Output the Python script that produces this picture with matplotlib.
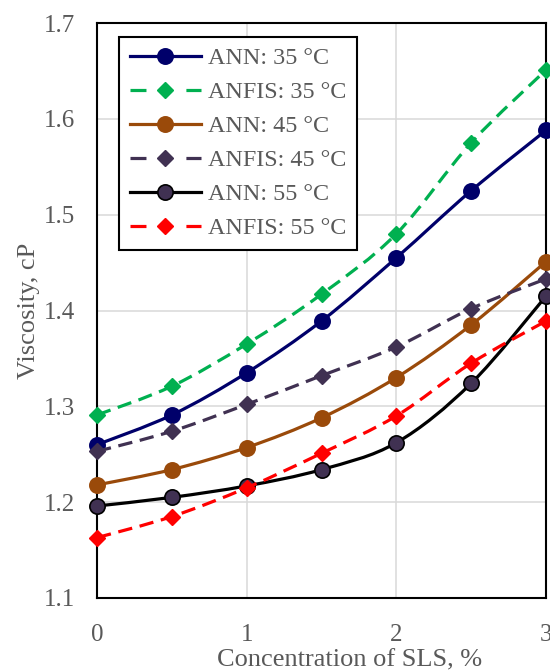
import matplotlib
matplotlib.use("Agg")
from matplotlib import pyplot as plt
from matplotlib.path import Path
from matplotlib.patches import PathPatch
from matplotlib.lines import Line2D

conc = [0, 0.5, 1, 1.5, 2, 2.5, 3]
ann_35 = [1.260, 1.291, 1.335, 1.389, 1.455, 1.525, 1.588]
anfis_35 = [1.291, 1.321, 1.365, 1.417, 1.480, 1.575, 1.651]
ann_45 = [1.218, 1.234, 1.257, 1.288, 1.330, 1.385, 1.451]
anfis_45 = [1.253, 1.274, 1.302, 1.332, 1.362, 1.402, 1.433]
ann_55 = [1.196, 1.205, 1.217, 1.234, 1.262, 1.324, 1.415]
anfis_55 = [1.163, 1.185, 1.215, 1.251, 1.290, 1.345, 1.389]

names = ["ANN: 35 °C", "ANFIS: 35 °C", "ANN: 45 °C", "ANFIS: 45 °C", "ANN: 55 °C", "ANFIS: 55 °C"]
series = [ann_35, anfis_35, ann_45, anfis_45, ann_55, anfis_55]
colors = ["#00006a", "#00b050", "#9a4a0a", "#403152", "#000000", "#ff0000"]
faces = ["#00006a", "#00b050", "#9a4a0a", "#403152", "#403152", "#ff0000"]
dashed = [False, True, False, True, False, True]

grey = "#595959"
plt.rcParams['font.family'] = ['Liberation Serif', 'DejaVu Serif']


def smooth_path(x, y):
    # excel style smoothed line: catmull-rom converted to bezier segments
    pts = list(zip(x, y))
    n = len(pts)
    verts = [pts[0]]
    codes = [Path.MOVETO]
    for i in range(n - 1):
        p0 = pts[max(i - 1, 0)]
        p1 = pts[i]
        p2 = pts[i + 1]
        p3 = pts[min(i + 2, n - 1)]
        c1 = (p1[0] + (p2[0] - p0[0]) / 6, p1[1] + (p2[1] - p0[1]) / 6)
        c2 = (p2[0] - (p3[0] - p1[0]) / 6, p2[1] - (p3[1] - p1[1]) / 6)
        verts += [c1, c2, p2]
        codes += [Path.CURVE4] * 3
    return Path(verts, codes)


fig = plt.figure(figsize=(5.5, 6.71), dpi=100)
ax = fig.add_axes([97 / 550, 73 / 671, 449 / 550, 575 / 671])

handles = []
for i in range(6):
    ls = (0, (4.5, 2.4)) if dashed[i] else '-'
    patch = PathPatch(smooth_path(conc, series[i]), fill=False, edgecolor=colors[i],
                      linewidth=2.3, linestyle=ls, capstyle='butt', joinstyle='round', zorder=3 + i)
    ax.add_patch(patch)
    if dashed[i]:
        ax.plot(conc, series[i], linestyle='none', marker='D', markersize=8.4,
                color=faces[i], markeredgecolor=faces[i], clip_on=False, zorder=3 + i)
        handles.append(Line2D([], [], color=colors[i], linewidth=2.3, linestyle=(0, (5.0, 12.5)),
                              marker='D', markersize=8.4, markerfacecolor=faces[i],
                              markeredgecolor=faces[i]))
    else:
        edge = "#000000" if i == 4 else faces[i]
        ax.plot(conc, series[i], linestyle='none', marker='o', markersize=11,
                markerfacecolor=faces[i], markeredgecolor=edge, markeredgewidth=1.2,
                clip_on=False, zorder=3 + i)
        handles.append(Line2D([], [], color=colors[i], linewidth=2.3, marker='o', markersize=11,
                              markerfacecolor=faces[i], markeredgecolor=edge, markeredgewidth=1.2))

ax.set_xlim(0, 3)
ax.set_ylim(1.1, 1.7)
ax.set_xticks([0, 1, 2, 3])
ax.set_yticks([1.1, 1.2, 1.3, 1.4, 1.5, 1.6, 1.7])
ax.set_yticklabels(["1.1", "1.2", "1.3", "1.4", "1.5", "1.6", "1.7"])
ax.grid(True, color="#d9d9d9", linewidth=1.1, zorder=0)
ax.set_axisbelow(True)
ax.tick_params(axis='both', length=0, labelsize=18, labelcolor=grey)
ax.tick_params(axis='x', pad=19)
ax.tick_params(axis='y', pad=16)
for s in ax.spines.values():
    s.set_color("#000000")
    s.set_linewidth(1.5)

ax.set_xlabel("Concentration of SLS, %", fontsize=19, color=grey)
ax.set_ylabel("Viscosity, cP", fontsize=19, color=grey)
ax.xaxis.set_label_coords(0.5635, -0.09)
ax.yaxis.set_label_coords(-0.128, 0.5)

leg = ax.legend(handles, names, loc='upper left', bbox_to_anchor=(0.05, 0.975), borderaxespad=0,
                fontsize=17.4, labelcolor=grey, handlelength=2.95, handletextpad=0.3,
                borderpad=0.42, labelspacing=0.5, fancybox=False, framealpha=1)
leg.get_frame().set_edgecolor("#000000")
leg.get_frame().set_linewidth(1.5)
leg.set_zorder(20)

fig.savefig("out.png", dpi=100)
